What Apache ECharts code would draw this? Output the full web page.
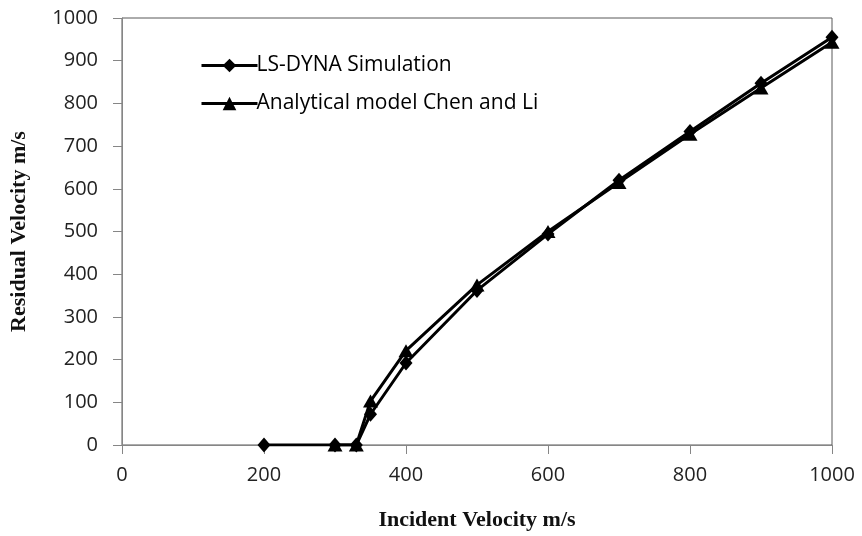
<!DOCTYPE html>
<html>
<head>
<meta charset="utf-8">
<script src="https://cdn.jsdelivr.net/npm/echarts@6/dist/echarts.min.js"></script>
<style>
  html, body { margin: 0; padding: 0; background: #fff; }
  #chart { width: 862px; height: 536px; }
</style>
</head>
<body>
<div id="chart"></div>
<script>
// incident velocity (m/s) for each series
const simX = [200, 300, 330, 350, 400, 500, 600, 700, 800, 900, 1000]
const simY = [0, 0, 0, 72, 192, 362, 494, 620, 734, 847, 955]
const modelX = [300, 330, 350, 400, 500, 600, 700, 800, 900, 1000]
const modelY = [0, 0, 103, 221, 375, 500, 615, 728, 836, 943]

const xTicks = [0, 200, 400, 600, 800, 1000]

const pairs = (xs, ys) => xs.map((x, i) => [x, ys[i]])

const chart = echarts.init(document.getElementById('chart'))

const option = {
  backgroundColor: '#fff',
  animation: false,
  grid: {
    left: 120,
    right: 30,
    top: 18,
    bottom: 90,
    show: true,
    borderColor: '#595959',
    borderWidth: 1
  },
  legend: {
    orient: 'vertical',
    left: 195,
    top: 50,
    itemWidth: 56,
    itemHeight: 17,
    itemGap: 17,
    lineStyle: { width: 3 },
    textStyle: {
      fontFamily: 'Open Sans',
      fontSize: 21,
      color: '#000',
      padding: [0, 0, 0, -6]
    },
    data: ['LS-DYNA Simulation', 'Analytical model Chen and Li']
  },
  xAxis: {
    type: 'value',
    min: 0,
    max: 1000,
    interval: 200,
    name: 'Incident Velocity m/s',
    nameLocation: 'middle',
    nameGap: 64,
    nameTextStyle: {
      fontFamily: 'Liberation Serif',
      fontSize: 22,
      fontWeight: 'bold',
      color: '#111'
    },
    axisLine: { lineStyle: { color: '#868686', width: 1 } },
    axisTick: { show: true, length: 9, lineStyle: { color: '#868686' } },
    axisLabel: {
      margin: 20,
      fontFamily: 'Open Sans',
      fontSize: 20,
      color: '#222',
      formatter: v => xTicks.includes(v) ? String(v) : ''
    },
    splitLine: { show: false }
  },
  yAxis: {
    type: 'value',
    min: 0,
    max: 1000,
    interval: 100,
    name: 'Residual Velocity m/s',
    nameLocation: 'middle',
    nameGap: 92,
    nameTextStyle: {
      fontFamily: 'Liberation Serif',
      fontSize: 22,
      fontWeight: 'bold',
      color: '#111'
    },
    axisLine: { show: true, lineStyle: { color: '#868686', width: 1 } },
    axisTick: { show: true, length: 9, lineStyle: { color: '#868686' } },
    axisLabel: {
      margin: 24,
      fontFamily: 'Open Sans',
      fontSize: 20,
      color: '#222',
      formatter: v => String(v)
    },
    splitLine: { show: false }
  },
  series: [
    {
      name: 'LS-DYNA Simulation',
      type: 'line',
      data: pairs(simX, simY),
      symbol: 'diamond',
      symbolSize: [13, 15],
      lineStyle: { color: '#000', width: 3 },
      itemStyle: { color: '#000' }
    },
    {
      name: 'Analytical model Chen and Li',
      type: 'line',
      data: pairs(modelX, modelY),
      symbol: 'triangle',
      symbolSize: [15, 13],
      lineStyle: { color: '#000', width: 3 },
      itemStyle: { color: '#000' }
    }
  ]
}

chart.setOption(option)
</script>
</body>
</html>
